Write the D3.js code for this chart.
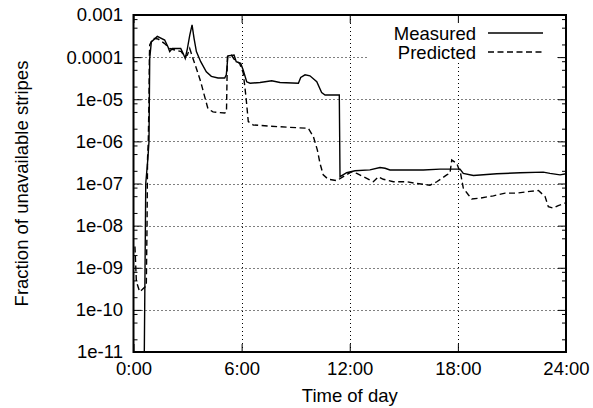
<!DOCTYPE html>
<html>
<head>
<meta charset="utf-8">
<script src="https://cdn.jsdelivr.net/npm/d3@7"></script>
<style>
  body { margin: 0; background: #fff; }
  text { font-family: "Liberation Sans", Arial, sans-serif; fill: #000; }
</style>
</head>
<body>
<svg id="chart" width="593" height="408"></svg>
<script>
// time of day (hours) and fraction of unavailable stripes
var measuredHours = [0.60, 0.64, 0.68, 0.80, 0.86, 0.90, 0.99, 1.32, 1.73, 1.91, 2.01, 2.15, 2.62, 2.75, 2.87, 2.99, 3.12, 3.25, 3.36, 3.49, 3.73, 4.04, 4.32, 4.69, 5.06, 5.15, 5.24, 5.58, 5.70, 5.95, 6.09, 6.28, 6.47, 7.02, 7.67, 8.13, 9.15, 9.28, 9.52, 9.79, 10.17, 10.44, 10.63, 11.42, 11.46, 11.83, 12.29, 13.12, 13.68, 13.96, 14.23, 16.08, 17.01, 18.12, 18.30, 18.86, 20.16, 21.45, 22.74, 23.11, 23.67, 24.0];
var measuredValues = [1e-11, 1e-9, 1e-7, 4e-7, 1e-6, 9.3e-5, 2.3e-4, 3.1e-4, 2.55e-4, 1.77e-4, 1.35e-4, 1.6e-4, 1.6e-4, 1.23e-4, 9.3e-5, 1.6e-4, 3.3e-4, 5.8e-4, 2.8e-4, 1.35e-4, 7.8e-5, 4.5e-5, 3.5e-5, 3.2e-5, 3.2e-5, 3.8e-5, 1.07e-4, 1.12e-4, 7.8e-5, 7.1e-5, 4.9e-5, 2.6e-5, 2.4e-5, 2.5e-5, 2.75e-5, 2.5e-5, 2.4e-5, 3.3e-5, 3.8e-5, 3.6e-5, 2.6e-5, 1.45e-5, 1.26e-5, 1.26e-5, 1.45e-7, 1.8e-7, 2.0e-7, 2.1e-7, 2.4e-7, 2.3e-7, 2.1e-7, 2.1e-7, 2.2e-7, 2.2e-7, 1.74e-7, 1.55e-7, 1.7e-7, 1.8e-7, 1.86e-7, 1.74e-7, 1.6e-7, 1.7e-7];

var predictedHours = [0.08, 0.16, 0.34, 0.47, 0.64, 0.71, 0.75, 0.78, 0.82, 0.86, 0.88, 0.90, 1.08, 1.36, 1.73, 2.01, 2.29, 2.65, 2.84, 2.99, 3.12, 3.30, 3.49, 3.73, 3.95, 4.13, 4.41, 5.06, 5.16, 5.21, 5.43, 5.62, 5.89, 6.09, 6.24, 6.37, 6.65, 7.57, 8.68, 9.70, 9.98, 10.20, 10.35, 10.53, 10.81, 11.28, 11.64, 12.11, 12.39, 12.75, 13.31, 13.59, 13.86, 14.42, 15.16, 15.72, 16.45, 16.83, 17.38, 17.56, 17.66, 17.94, 18.15, 18.30, 18.58, 18.77, 19.23, 19.97, 20.62, 21.27, 22.00, 22.47, 22.84, 23.02, 23.30, 23.57, 23.76, 24.0];
var predictedValues = [3.2e-9, 4.7e-10, 2.7e-10, 3.0e-10, 3.5e-10, 3.6e-10, 9.3e-9, 4e-7, 1e-6, 1e-5, 9.3e-5, 1.95e-4, 2.8e-4, 2.7e-4, 2.1e-4, 1.6e-4, 1.48e-4, 1.35e-4, 1.02e-4, 1.12e-4, 1.6e-4, 9.3e-5, 5.4e-5, 2.6e-5, 1.15e-5, 6.0e-6, 5.0e-6, 4.7e-6, 5.0e-6, 1.02e-4, 1.12e-4, 8.5e-5, 7.1e-5, 4.2e-5, 1.15e-5, 2.95e-6, 2.45e-6, 2.3e-6, 2.15e-6, 2.05e-6, 1.3e-6, 6.3e-7, 3.0e-7, 1.6e-7, 1.26e-7, 1.17e-7, 1.45e-7, 1.9e-7, 1.74e-7, 1.45e-7, 1.1e-7, 1.45e-7, 1.26e-7, 1.1e-7, 1.1e-7, 1.0e-7, 9.1e-8, 1.1e-7, 1.6e-7, 1.74e-7, 3.6e-7, 3.0e-7, 1.74e-7, 7.8e-8, 5.4e-8, 4.3e-8, 4.5e-8, 5.1e-8, 5.9e-8, 5.9e-8, 6.5e-8, 6.8e-8, 4.9e-8, 2.8e-8, 2.6e-8, 3.0e-8, 3.2e-8, 3.5e-8];

var hourTicks = [0, 6, 12, 18, 24];
var decadeTicks = [1e-11, 1e-10, 1e-9, 1e-8, 1e-7, 1e-6, 1e-5, 1e-4, 1e-3];
var decadeLabels = ["1e-11", "1e-10", "1e-09", "1e-08", "1e-07", "1e-06", "1e-05", "0.0001", "0.001"];
var seriesNames = ["Measured", "Predicted"];

var svg = d3.select("svg"),
    pLeft = 133.5, pRight = 566, pTop = 15, pBottom = 352;

var x = d3.scaleLinear().domain([0, 24]).range([pLeft, pRight]);
var y = d3.scaleLog().domain([1e-11, 1e-3]).range([pBottom, pTop]);

// minor ticks at 2, 5 and 8 of every decade
var minorTicks = [];
decadeTicks.slice(0, -1).forEach(function (d) {
    [2, 5, 8].forEach(function (m) { minorTicks.push(d * m); });
});

// grid
var grid = svg.append("g")
    .attr("stroke", "#000")
    .attr("stroke-width", 1)
    .attr("stroke-dasharray", "1,3");
grid.selectAll("line.h")
    .data(decadeTicks.slice(1, -1))
    .enter().append("line")
    .attr("x1", pLeft).attr("x2", pRight)
    .attr("y1", function (d) { return Math.round(y(d)) + 0.5; })
    .attr("y2", function (d) { return Math.round(y(d)) + 0.5; });
grid.selectAll("line.v")
    .data(hourTicks.slice(1, -1))
    .enter().append("line")
    .attr("y1", pTop).attr("y2", pBottom)
    .attr("x1", function (d) { return Math.round(x(d)) + 0.5; })
    .attr("x2", function (d) { return Math.round(x(d)) + 0.5; });

// legend box hides the grid behind it
svg.append("rect")
    .attr("x", 368).attr("y", 16)
    .attr("width", 189).attr("height", 47)
    .attr("fill", "#fff");

// curves
svg.append("clipPath").attr("id", "clip")
    .append("rect")
    .attr("x", pLeft).attr("y", pTop)
    .attr("width", pRight - pLeft).attr("height", pBottom - pTop);

var line = d3.line()
    .x(function (d) { return x(d[0]); })
    .y(function (d) { return y(d[1]); });

var measured = measuredHours.map(function (h, i) { return [h, measuredValues[i]]; });
var predicted = predictedHours.map(function (h, i) { return [h, predictedValues[i]]; });

var curves = svg.append("g").attr("clip-path", "url(#clip)");
curves.append("path")
    .datum(predicted)
    .attr("d", line)
    .attr("fill", "none")
    .attr("stroke", "#000")
    .attr("stroke-width", 1.4)
    .attr("stroke-dasharray", "6,3.5");
curves.append("path")
    .datum(measured)
    .attr("d", line)
    .attr("fill", "none")
    .attr("stroke", "#000")
    .attr("stroke-width", 1.4);

// axes, gnuplot style: ticks inside and mirrored
function styleAxis(g) {
    g.select(".domain").remove();
    g.selectAll("line").attr("stroke", "#000").attr("stroke-width", 1);
    g.selectAll("text")
        .style("font-family", "'Liberation Sans', Arial, sans-serif")
        .style("font-size", "18.5px")
        .attr("fill", "#000");
}

svg.append("g")
    .attr("transform", "translate(0," + pBottom + ")")
    .call(d3.axisBottom(x).tickValues(hourTicks)
        .tickFormat(function (d) { return d + ":00"; })
        .tickSizeInner(-8).tickSizeOuter(0).tickPadding(10))
    .call(styleAxis);
svg.append("g")
    .attr("transform", "translate(0," + pTop + ")")
    .call(d3.axisTop(x).tickValues(hourTicks).tickFormat("")
        .tickSizeInner(-8).tickSizeOuter(0))
    .call(styleAxis);

svg.append("g")
    .attr("transform", "translate(" + pLeft + ",0)")
    .call(d3.axisLeft(y).tickValues(decadeTicks)
        .tickFormat(function (d, i) { return decadeLabels[i]; })
        .tickSizeInner(-8).tickSizeOuter(0).tickPadding(10.5))
    .call(styleAxis);
svg.append("g")
    .attr("transform", "translate(" + pLeft + ",0)")
    .call(d3.axisLeft(y).tickValues(minorTicks).tickFormat("")
        .tickSizeInner(-4).tickSizeOuter(0))
    .call(styleAxis);
svg.append("g")
    .attr("transform", "translate(" + pRight + ",0)")
    .call(d3.axisRight(y).tickValues(decadeTicks).tickFormat("")
        .tickSizeInner(-8).tickSizeOuter(0))
    .call(styleAxis);
svg.append("g")
    .attr("transform", "translate(" + pRight + ",0)")
    .call(d3.axisRight(y).tickValues(minorTicks).tickFormat("")
        .tickSizeInner(-4).tickSizeOuter(0))
    .call(styleAxis);

// border
svg.append("rect")
    .attr("x", pLeft).attr("y", pTop)
    .attr("width", pRight - pLeft).attr("height", pBottom - pTop)
    .attr("fill", "none")
    .attr("stroke", "#000")
    .attr("stroke-width", 2);

// legend
var legend = svg.append("g").style("font-size", "18.5px");
seriesNames.forEach(function (name, i) {
    var ly = 33 + i * 19;
    legend.append("text")
        .attr("x", 476).attr("y", ly + 6.5)
        .attr("text-anchor", "end")
        .text(name);
    legend.append("line")
        .attr("x1", 488).attr("x2", 543)
        .attr("y1", ly).attr("y2", ly)
        .attr("stroke", "#000")
        .attr("stroke-width", 1.4)
        .attr("stroke-dasharray", i === 0 ? null : "6,3.5");
});

// axis titles
svg.append("text")
    .attr("x", (pLeft + pRight) / 2).attr("y", 402)
    .attr("text-anchor", "middle")
    .style("font-size", "18.5px")
    .text("Time of day");
svg.append("text")
    .attr("transform", "translate(28," + (pTop + pBottom) / 2 + ") rotate(-90)")
    .attr("text-anchor", "middle")
    .style("font-size", "18.5px")
    .text("Fraction of unavailable stripes");
</script>
</body>
</html>
